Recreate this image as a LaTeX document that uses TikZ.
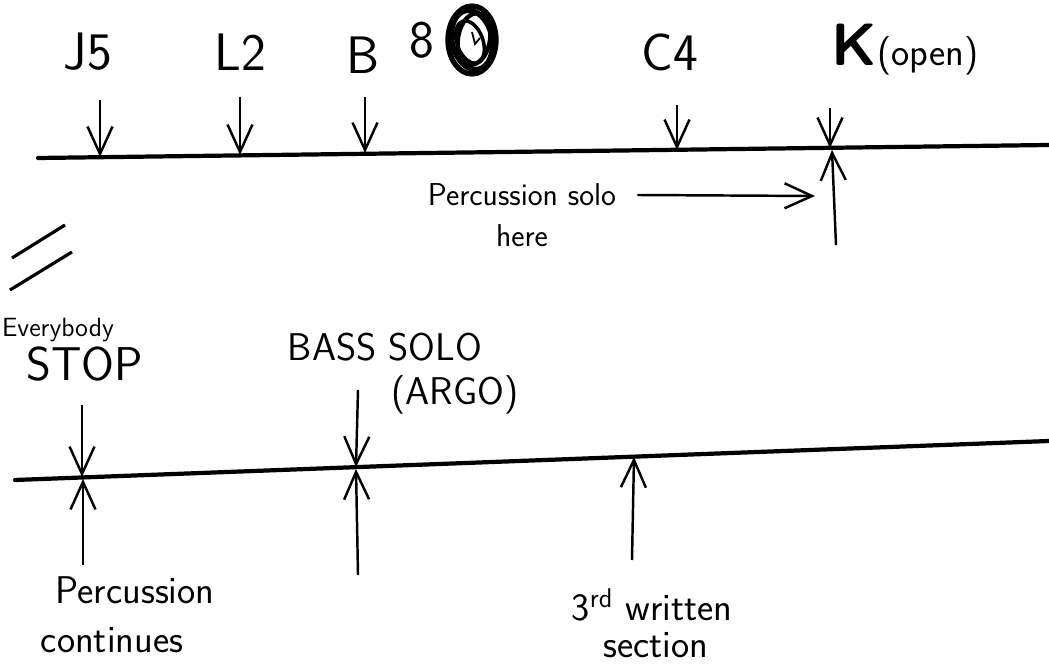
\documentclass[tikz,border=0pt]{standalone}
\usepackage{tikz}
\usetikzlibrary{arrows.meta}

\tikzset{
  big/.style={font=\sffamily\fontsize{30}{32}\selectfont, inner sep=0pt},
  mid/.style={font=\sffamily\fontsize{22}{24}\selectfont, inner sep=0pt},
  small/.style={font=\sffamily\fontsize{18}{20}\selectfont, inner sep=0pt},
  track/.style={line width=2.4pt, line cap=round},
  cue/.style={->, line width=1.4pt},
}

\begin{document}
\begin{tikzpicture}[x=0.02cm, y=-0.02cm, >={Straight Barb[length=5.5mm,width=5mm]}]
        \useasboundingbox (0,0) rectangle (1049,665);

        % first line
        \coordinate (ta) at (38,158);
        \coordinate (tb) at (1049,145);
        \draw[track] (ta) -- (tb);

        \node[big] (j5) at (88,52) {J5};
        \node[big] (l2) at (240,52) {L2};
        \node[big] (b) at (363,55) {B};
        \node[big] (eight) at (422,40) {8};
        \node[big] (c4) at (670,52) {C4};
        \node[mid] (k) at (905,50) {\textbf{\fontsize{34}{36}\selectfont K}(open)};

        % scribbled circle
        \draw[line width=3pt] (472,40) ellipse (24 and 34);
        \draw[line width=3pt, rotate around={12:(472,40)}] (472,40) ellipse (20 and 30);
        \draw[line width=2.5pt, rotate around={-10:(474,39)}] (474,39) ellipse (16 and 26);
        \draw[line width=2pt, rotate around={20:(470,42)}] (470,42) ellipse (13 and 22);
        \draw[line width=1pt] (472,32) -- (475,44) -- (480,38);

        \coordinate (j5s) at (100,100);  \coordinate (j5e) at (100,157);
        \coordinate (l2s) at (240,97);   \coordinate (l2e) at (240,155);
        \coordinate (bs) at (365,97);    \coordinate (be) at (365,153);
        \coordinate (c4s) at (677,105);  \coordinate (c4e) at (677,150);
        \coordinate (ks) at (830,108);   \coordinate (ke) at (830,148);
        \coordinate (ku) at (836,245);   \coordinate (kf) at (832,150);
        \draw[cue] (j5s) -- (j5e);
        \draw[cue] (l2s) -- (l2e);
        \draw[cue] (bs) -- (be);
        \draw[cue] (c4s) -- (c4e);
        \draw[cue] (ks) -- (ke);
        \draw[cue] (ku) -- (kf);

        \node[small] (perc) at (522,195) {Percussion solo};
        \node[small] (here) at (522,236) {here};
        \coordinate (pt) at (815,196);
        \draw[cue] ([xshift=12]perc.east) -- (pt);

        % break mark
        \draw[line width=1.8pt] (12,258) -- (65,225);
        \draw[line width=1.8pt] (10,290) -- (72,252);

        % second line
        \coordinate (sa) at (15,480);
        \coordinate (sb) at (1049,441);
        \draw[track] (sa) -- (sb);

        \node[font=\sffamily\fontsize{15}{17}\selectfont, inner sep=0pt] (every) at (58,330) {Everybody};
        \node[font=\sffamily\fontsize{27}{29}\selectfont, inner sep=0pt] (stop) at (85,364) {STOP};
        \node[mid] (bass) at (385,347) {BASS SOLO};
        \node[mid] (argo) at (455,395) {(ARGO)};
        \node[mid] (pcont) at (135,590) {Percussion};
        \node[mid] (cont) at (112,640) {continues};
        \node[mid] (third) at (652,605) {3\textsuperscript{rd} written};
        \node[mid] (sect) at (656,645) {section};

        \coordinate (ss) at (82,405);   \coordinate (se) at (82,477);
        \coordinate (su) at (83,565);   \coordinate (sf) at (83,479);
        \coordinate (bss) at (358,390); \coordinate (bse) at (356,467);
        \coordinate (bsu) at (358,575); \coordinate (bsf) at (356,469);
        \coordinate (tu) at (632,560);  \coordinate (tf) at (634,457);
        \draw[cue] (ss) -- (se);
        \draw[cue] (su) -- (sf);
        \draw[cue] (bss) -- (bse);
        \draw[cue] (bsu) -- (bsf);
        \draw[cue] (tu) -- (tf);
    \end{tikzpicture}
\end{document}
